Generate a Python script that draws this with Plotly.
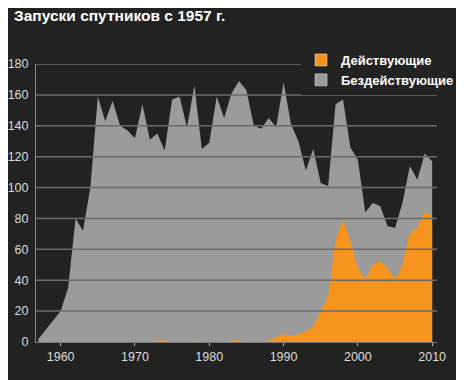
import plotly.graph_objects as go
import numpy as np

years = list(range(1957, 2011))

# Действующие (active)
active = [0, 0, 0, 0, 0, 0, 0, 0, 0, 0,      # 1957-1966
          0, 0, 0, 0, 0, 0, 1, 1, 0, 0,      # 1967-1976
          0, 1, 0, 0, 0, 0, 1, 1, 0, 0,      # 1977-1986
          0, 1, 3, 5, 4, 5, 7, 10, 20, 30,   # 1987-1996
          65, 78, 65, 48, 41, 50, 52, 48, 41, 50,  # 1997-2006
          70, 74, 84, 81]                    # 2007-2010

# Бездействующие (inactive)
inactive = [2, 8, 14, 20, 35, 80, 72, 100, 159, 143,        # 1957-1966
            156, 140, 137, 132, 154, 131, 134, 123, 157, 159,  # 1967-1976
            139, 165, 125, 129, 159, 145, 160, 168, 163, 140,  # 1977-1986
            138, 144, 136, 163, 137, 125, 104, 115, 83, 71,    # 1987-1996
            89, 79, 61, 70, 43, 40, 36, 27, 33, 40,            # 1997-2006
            44, 31, 38, 36]                                    # 2007-2010

y_ticks = [0, 20, 40, 60, 80, 100, 120, 140, 160, 180]
x_ticks = [1960, 1970, 1980, 1990, 2000, 2010]

title_text = "Запуски спутников с 1957 г."
name_active = "Действующие"
name_inactive = "Бездействующие"

BG = "#222222"
GRAY = "#9b9b9b"
ORANGE = "#f7941d"
FONT = "Liberation Sans, Arial, sans-serif"

# the page adds an 8px body margin, so the figure is laid out 8px smaller
W, H = 456, 372
L, R, T, B = 28, 27, 56, 38
PW, PH = W - L - R, H - T - B

total = np.array(active) + np.array(inactive)

fig = go.Figure()
fig.add_trace(go.Scatter(x=years, y=total, fill="tozeroy", mode="lines",
                         line=dict(width=0, color=GRAY), fillcolor=GRAY,
                         showlegend=False, hoverinfo="skip"))
fig.add_trace(go.Scatter(x=years, y=active, fill="tozeroy", mode="lines",
                         line=dict(width=0, color=ORANGE, shape="spline", smoothing=0.6),
                         fillcolor=ORANGE, showlegend=False, hoverinfo="skip"))
# legend entries
fig.add_trace(go.Bar(x=[None], y=[None], name=name_active, marker_color=ORANGE))
fig.add_trace(go.Bar(x=[None], y=[None], name=name_inactive, marker_color=GRAY))

for v in y_ticks[1:]:
    fig.add_shape(type="line", xref="paper", x0=0, x1=1, yref="y", y0=v, y1=v,
                  layer="above", line=dict(color="#6c6c6c", width=1.5))

fig.update_layout(
    width=W, height=H,
    paper_bgcolor=BG, plot_bgcolor=BG,
    margin=dict(l=L, r=R, t=T, b=B, autoexpand=False),
    font=dict(family=FONT, color="#dddddd", size=12),
    title=dict(text=title_text, x=6/W, xref="container", xanchor="left",
               y=1-8/H, yref="container", yanchor="middle",
               pad=dict(l=0, r=0, t=0, b=0),
               font=dict(family=FONT, size=15.5, color="#ffffff", weight="bold")),
    legend=dict(x=(293-L)/PW, xanchor="left", y=(H-B-37)/PH, yanchor="top",
                bgcolor=BG, font=dict(family=FONT, size=13, color="#ffffff", weight="bold"),
                traceorder="normal", tracegroupgap=0, itemclick=False),
    showlegend=True,
    xaxis=dict(range=[1956.68, 2010.65], tickvals=x_ticks, showgrid=False, zeroline=False,
               automargin=False,
               ticks="outside", ticklen=3, tickcolor="#bbbbbb", showline=True,
               linecolor="#7a7a7a", linewidth=1, tickfont=dict(size=12.5, color="#dddddd")),
    yaxis=dict(range=[0, 180], tickvals=y_ticks, showgrid=False, zeroline=False,
               automargin=False,
               showline=True, linecolor="#8a8a8a", linewidth=1, ticks="",
               ticklabelstandoff=4, tickfont=dict(size=12.5, color="#dddddd")),
)

fig.write_html("out.html")
